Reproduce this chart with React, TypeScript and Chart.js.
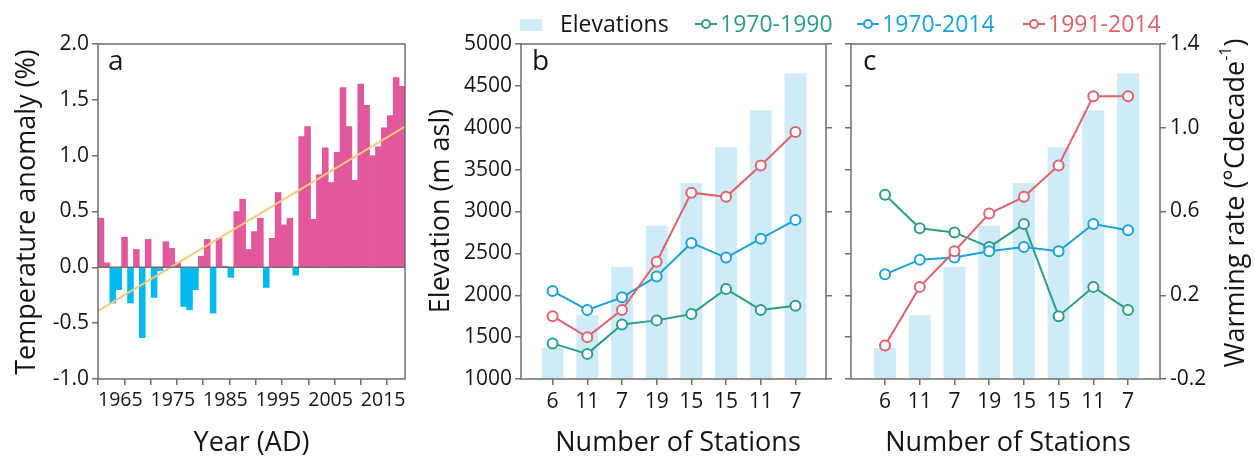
import React, { useEffect, useRef } from "react";
import { Chart, registerables } from "chart.js";
Chart.register(...registerables);

const FONT = "'Open Sans', 'Noto Sans', sans-serif";
const AXIS = "#6e6e6e";
const TEXT = "#151515";
const PINK = "#E2589C";
const CYAN = "#00B9F0";
const TREND = "#F5C97C";
const BAR = "#CFEBF8";
const GREEN = "#2B9E89";
const BLUE = "#1BA2DE";
const RED = "#E0626C";
const TITLE_SIZE = 27;
const TICK_SIZE = 21;

// ---- Panel a: temperature anomaly ----
const anomalyYears = [
  1961, 1962, 1963, 1964, 1965, 1966, 1967, 1968, 1969, 1970, 1971, 1972, 1973,
  1974, 1975, 1976, 1977, 1978, 1979, 1980, 1981, 1982, 1983, 1984, 1985, 1986,
  1987, 1988, 1989, 1990, 1991, 1992, 1993, 1994, 1995, 1996, 1997, 1998, 1999,
  2000, 2001, 2002, 2003, 2004, 2005, 2006, 2007, 2008, 2009, 2010, 2011, 2012,
];
const anomalyValues = [
  0.44, 0.04, -0.32, -0.2, 0.27, -0.32, 0.16, -0.63, 0.25, -0.27, -0.03, 0.23,
  0.17, 0.04, -0.35, -0.38, -0.2, 0.1, 0.25, -0.41, 0.26, 0.01, -0.09, 0.5,
  0.61, 0.16, 0.32, 0.44, -0.18, 0.26, 0.67, 0.38, 0.44, -0.07, 1.17, 1.26,
  0.43, 0.83, 1.07, 0.76, 1.03, 1.61, 1.26, 0.78, 1.64, 1.45, 1.0, 1.08, 1.25,
  1.36, 1.7, 1.62,
];
// trend line end points, in the bar-axis year units (plot edges)
const trendYears = [1960.5, 2012.5];
const trendValues = [-0.39, 1.26];
const yearTicks = [1960, 1965, 1970, 1975, 1980, 1985, 1990, 1995, 2000, 2005, 2010, 2015];
const anomalyTicks = [-1.0, -0.5, 0.0, 0.5, 1.0, 1.5, 2.0];

// ---- Panels b, c ----
const stationCounts = ["6", "11", "7", "19", "15", "15", "11", "7"];
const elevations = [1370, 1760, 2340, 2830, 3340, 3770, 4210, 4650];
const rateB_1970_1990 = [-0.03, -0.08, 0.06, 0.08, 0.11, 0.23, 0.13, 0.15];
const rateB_1970_2014 = [0.22, 0.13, 0.19, 0.29, 0.45, 0.38, 0.47, 0.56];
const rateB_1991_2014 = [0.1, 0.0, 0.13, 0.36, 0.69, 0.67, 0.82, 0.98];
const rateC_1970_1990 = [0.68, 0.52, 0.5, 0.43, 0.54, 0.1, 0.24, 0.13];
const rateC_1970_2014 = [0.3, 0.37, 0.38, 0.41, 0.43, 0.41, 0.54, 0.51];
const rateC_1991_2014 = [-0.04, 0.24, 0.41, 0.59, 0.67, 0.82, 1.15, 1.15];
const elevationTicks = [1000, 1500, 2000, 2500, 3000, 3500, 4000, 4500, 5000];
const rateTicks = [-0.2, 0.2, 0.6, 1.0, 1.4];
const seriesNames = ["1970-1990", "1970-2014", "1991-2014"];

const gridCfg = {
  drawOnChartArea: false,
  drawTicks: true,
  tickLength: 6,
  color: AXIS,
  lineWidth: 1.5,
  offset: false,
};

const decorPlugin = {
  id: "decor",
  afterDatasetsDraw(chart: any, _args: any, opts: any) {
    const { ctx, chartArea: a } = chart;
    ctx.save();
    ctx.strokeStyle = AXIS;
    ctx.lineWidth = 1.5;
    if (opts.zeroAxis) {
      const y = chart.scales[opts.zeroAxis].getPixelForValue(0);
      ctx.beginPath();
      ctx.moveTo(a.left, y);
      ctx.lineTo(a.right, y);
      ctx.stroke();
    }
    ctx.strokeRect(a.left, a.top, a.right - a.left, a.bottom - a.top);
    for (const t of opts.texts || []) {
      ctx.save();
      ctx.translate(t.x, t.y);
      if (t.rotate) ctx.rotate(t.rotate);
      ctx.fillStyle = TEXT;
      ctx.textBaseline = t.baseline || "alphabetic";
      const parts = t.parts || [{ text: t.text, size: t.size, dy: 0 }];
      let total = 0;
      for (const p of parts) {
        ctx.font = `${p.size}px ${FONT}`;
        total += ctx.measureText(p.text).width;
      }
      let x = t.align === "left" ? 0 : -total / 2;
      ctx.textAlign = "left";
      for (const p of parts) {
        ctx.font = `${p.size}px ${FONT}`;
        ctx.fillText(p.text, x, p.dy || 0);
        x += ctx.measureText(p.text).width;
      }
      ctx.restore();
    }
    ctx.restore();
  },
};

function lineDataset(label: string, values: number[], color: string, order: number) {
  return {
    type: "line" as const,
    label,
    data: values.map((v, i) => ({ x: i, y: v })),
    xAxisID: "x",
    yAxisID: "yRate",
    borderColor: color,
    borderWidth: 2,
    pointRadius: 5,
    pointBorderWidth: 2,
    pointBackgroundColor: "#ffffff",
    pointBorderColor: color,
    order,
  };
}

function stationConfig(panel: "b" | "c", rates: number[][], texts: any[]) {
  const isB = panel === "b";
  return {
    type: "bar" as const,
    data: {
      datasets: [
        lineDataset(seriesNames[0], rates[0], GREEN, 3),
        lineDataset(seriesNames[1], rates[1], BLUE, 2),
        lineDataset(seriesNames[2], rates[2], RED, 1),
        {
          type: "bar" as const,
          label: "Elevations",
          data: elevations.map((e, i) => ({ x: i, y: e })),
          xAxisID: "x",
          yAxisID: "yElev",
          backgroundColor: BAR,
          borderWidth: 0,
          barPercentage: 0.63,
          categoryPercentage: 1,
          order: 10,
        },
      ],
    },
    options: {
      animation: false,
      responsive: false,
      maintainAspectRatio: false,
      layout: { padding: { top: 44, right: 0, bottom: 0, left: 0 } },
      plugins: {
        legend: { display: false },
        tooltip: { enabled: false },
        decor: { texts },
      },
      scales: {
        x: {
          type: "linear",
          position: "bottom",
          min: isB ? -0.91 : -0.98,
          max: isB ? 7.88 : 7.92,
          offset: false,
          afterBuildTicks: (s: any) => {
            s.ticks = stationCounts.map((_, i) => ({ value: i }));
          },
          ticks: {
            autoSkip: false,
            maxRotation: 0,
            minRotation: 0,
            color: TEXT,
            font: { family: FONT, size: TICK_SIZE },
            padding: 4,
            callback: (v: any) => stationCounts[v] ?? "",
          },
          grid: gridCfg,
          border: { display: false },
          afterFit: (s: any) => {
            s.height = 80;
          },
        },
        yElev: {
          type: "linear",
          position: "left",
          min: 1000,
          max: 5000,
          afterBuildTicks: (s: any) => {
            s.ticks = elevationTicks.map((v) => ({ value: v }));
          },
          ticks: {
            display: isB,
            color: TEXT,
            font: { family: FONT, size: TICK_SIZE },
            padding: 3,
            callback: (v: any) => String(v),
          },
          grid: gridCfg,
          border: { display: false },
          afterFit: (s: any) => {
            s.width = isB ? 101 : 11;
          },
        },
        yRate: {
          type: "linear",
          position: "right",
          min: -0.2,
          max: 1.4,
          afterBuildTicks: (s: any) => {
            s.ticks = rateTicks.map((v) => ({ value: v }));
          },
          ticks: {
            display: !isB,
            color: TEXT,
            font: { family: FONT, size: TICK_SIZE },
            padding: 4,
            callback: (v: any) => Number(v).toFixed(1),
          },
          grid: gridCfg,
          border: { display: false },
          afterFit: (s: any) => {
            s.width = isB ? 14 : 95;
          },
        },
      },
    },
    plugins: [decorPlugin],
  };
}

function LegendMarker({ left, color }: { left: number; color: string }) {
  return (
    <svg width={24} height={14} style={{ position: "absolute", left, top: 17 }}>
      <line x1={1} y1={7} x2={23} y2={7} stroke={color} strokeWidth={2} />
      <circle cx={12} cy={7} r={4} stroke={color} strokeWidth={2} fill="#fff" />
    </svg>
  );
}

export default function App() {
  const refA = useRef<HTMLCanvasElement>(null);
  const refB = useRef<HTMLCanvasElement>(null);
  const refC = useRef<HTMLCanvasElement>(null);

  useEffect(() => {
    const chartA = new Chart(refA.current as HTMLCanvasElement, {
      type: "bar",
      data: {
        datasets: [
          {
            type: "bar",
            label: "Anomaly",
            data: anomalyValues.map((v, i) => ({ x: anomalyYears[i], y: v })) as any,
            xAxisID: "xBar",
            yAxisID: "y",
            backgroundColor: anomalyValues.map((v) => (v >= 0 ? PINK : CYAN)),
            borderWidth: 0,
            grouped: false,
            barPercentage: 1,
            categoryPercentage: 1,
            order: 5,
          } as any,
          {
            type: "line",
            label: "Trend",
            data: trendYears.map((x, i) => ({ x, y: trendValues[i] })) as any,
            xAxisID: "xBar",
            yAxisID: "y",
            borderColor: TREND,
            borderWidth: 2,
            pointRadius: 0,
            order: 0,
          } as any,
        ],
      },
      options: {
        animation: false,
        responsive: false,
        maintainAspectRatio: false,
        layout: { padding: { top: 44, right: 15, bottom: 0, left: 0 } },
        plugins: {
          legend: { display: false },
          tooltip: { enabled: false },
          decor: {
            zeroAxis: "y",
            texts: [
              { text: "a", x: 108, y: 70, size: 28, align: "left" },
              { text: "Temperature anomaly (%)", x: 27, y: 212, size: TITLE_SIZE, rotate: -Math.PI / 2, baseline: "middle" },
              { text: "Year (AD)", x: 251.5, y: 451, size: TITLE_SIZE },
            ],
          },
        } as any,
        scales: {
          xBar: {
            type: "linear",
            position: "bottom",
            display: false,
            min: anomalyYears[0] - 0.5,
            max: anomalyYears[anomalyYears.length - 1] + 0.5,
            offset: false,
            grid: { offset: false },
            afterBuildTicks: (s: any) => {
              s.ticks = anomalyYears.map((v) => ({ value: v }));
            },
          } as any,
          xYear: {
            type: "linear",
            position: "bottom",
            min: 1960,
            max: 2018.4,
            offset: false,
            afterBuildTicks: (s: any) => {
              s.ticks = yearTicks.map((v) => ({ value: v }));
            },
            ticks: {
              autoSkip: false,
              maxRotation: 0,
              minRotation: 0,
              color: TEXT,
              font: { family: FONT, size: 19.5 },
              padding: 4,
              labelOffset: -4,
              callback: (v: any) => (Number(v) % 10 === 5 ? String(v) : ""),
            },
            grid: gridCfg,
            border: { display: false },
            afterFit: (s: any) => {
              s.height = 80;
            },
          } as any,
          y: {
            type: "linear",
            position: "left",
            min: -1,
            max: 2,
            afterBuildTicks: (s: any) => {
              s.ticks = anomalyTicks.map((v) => ({ value: v }));
            },
            ticks: {
              color: TEXT,
              font: { family: FONT, size: TICK_SIZE },
              padding: 3,
              callback: (v: any) => Number(v).toFixed(1),
            },
            grid: gridCfg,
            border: { display: false },
            afterFit: (s: any) => {
              s.width = 98;
            },
          } as any,
        },
      },
      plugins: [decorPlugin as any],
    });

    const chartB = new Chart(
      refB.current as HTMLCanvasElement,
      stationConfig("b", [rateB_1970_1990, rateB_1970_2014, rateB_1991_2014], [
        { text: "b", x: 112, y: 70, size: 28, align: "left" },
        { text: "Elevation (m asl)", x: 21, y: 211, size: TITLE_SIZE, rotate: -Math.PI / 2, baseline: "middle" },
        { text: "Number of Stations", x: 258, y: 451, size: TITLE_SIZE },
      ]) as any
    );

    const chartC = new Chart(
      refC.current as HTMLCanvasElement,
      stationConfig("c", [rateC_1970_1990, rateC_1970_2014, rateC_1991_2014], [
        { text: "c", x: 23, y: 70, size: 28, align: "left" },
        { text: "Number of Stations", x: 168, y: 451, size: TITLE_SIZE },
        {
          x: 396,
          y: 203,
          rotate: -Math.PI / 2,
          baseline: "middle",
          parts: [
            { text: "Warming rate (°Cdecade", size: TITLE_SIZE, dy: 0 },
            { text: "-1", size: 16, dy: -10 },
            { text: ")", size: TITLE_SIZE, dy: 0 },
          ],
        },
      ]) as any
    );

    return () => {
      chartA.destroy();
      chartB.destroy();
      chartC.destroy();
    };
  }, []);

  const legendText = (left: number, color: string, text: string) => (
    <span
      style={{
        position: "absolute",
        left,
        top: 12,
        font: `23px ${FONT}`,
        lineHeight: "23px",
        color,
        whiteSpace: "nowrap",
      }}
    >
      {text}
    </span>
  );

  return (
    <div
      style={{
        position: "absolute",
        left: 0,
        top: 0,
        width: 1255,
        height: 459,
        background: "#fff",
        overflow: "hidden",
      }}
    >
      <canvas ref={refA} width={420} height={459} style={{ position: "absolute", left: 0, top: 0 }} />
      <canvas ref={refB} width={420} height={459} style={{ position: "absolute", left: 420, top: 0 }} />
      <canvas ref={refC} width={415} height={459} style={{ position: "absolute", left: 840, top: 0 }} />
      <div style={{ position: "absolute", left: 520, top: 19, width: 22, height: 12, background: BAR }} />
      {legendText(560, TEXT, "Elevations")}
      <LegendMarker left={694} color={GREEN} />
      {legendText(720, GREEN, seriesNames[0])}
      <LegendMarker left={856} color={BLUE} />
      {legendText(882, BLUE, seriesNames[1])}
      <LegendMarker left={1022} color={RED} />
      {legendText(1048, RED, seriesNames[2])}
    </div>
  );
}
